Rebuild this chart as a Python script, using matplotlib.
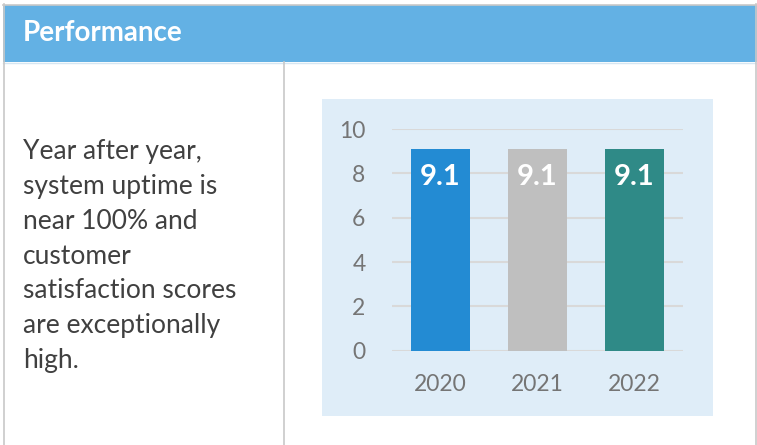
import matplotlib
matplotlib.use("Agg")
import matplotlib.pyplot as plt
from matplotlib.patches import Rectangle
from matplotlib.lines import Line2D

# Data
years = ["2020", "2021", "2022"]
scores = [9.1, 9.1, 9.1]
bar_colors = ["#238BD3", "#BFBFBF", "#2F8A87"]
y_ticks = [0, 2, 4, 6, 8, 10]
title = "Performance"
blurb_lines = ["Year after year,", "system uptime is", "near 100% and",
               "customer", "satisfaction scores", "are exceptionally", "high."]

W, H = 757, 445
plt.rcParams['font.family'] = ['Lato', 'DejaVu Sans']

fig = plt.figure(figsize=(W / 100, H / 100), dpi=100)
fig.patch.set_facecolor("white")


def px_rect(x0, y0, x1, y1, **kw):
    # rectangle in pixel coords (origin top-left)
    return Rectangle((x0 / W, 1 - y1 / H), (x1 - x0) / W, (y1 - y0) / H,
                     transform=fig.transFigure, **kw)


def px_line(xs, ys, **kw):
    return Line2D([x / W for x in xs], [1 - y / H for y in ys],
                  transform=fig.transFigure, **kw)


# card frame + header
fig.add_artist(px_rect(3, 5, 757, 62, facecolor="#63B1E4", edgecolor="none"))
border = dict(color="#C8C8C8", lw=1.2)
fig.add_artist(px_line([3, 757], [4.5, 4.5], **border))
fig.add_artist(px_line([3, 757], [62.5, 62.5], color="#D6E6F2", lw=1))
fig.add_artist(px_line([3.5, 3.5], [4, 445], **border))
fig.add_artist(px_line([283.5, 283.5], [62, 445], **border))
fig.add_artist(px_line([755.5, 755.5], [4, 445], **border))

fig.text(23 / W, 1 - 33 / H, title, color="white", fontsize=20,
         fontweight="bold", va="center", ha="left")

# left-hand description, one line at a time
line_y0, line_step = 152, 34.7
for i, line in enumerate(blurb_lines):
    fig.text(23 / W, 1 - (line_y0 + i * line_step) / H, line,
             color="#404040", fontsize=19, va="center", ha="left")

# chart panel background
fig.add_artist(px_rect(322, 99, 713, 416, facecolor="#DFEDF8",
                       edgecolor="none", zorder=0))

ax_l, ax_r, ax_t, ax_b = 392, 683, 129, 350.7
ax = fig.add_axes([ax_l / W, 1 - ax_b / H, (ax_r - ax_l) / W, (ax_b - ax_t) / H])
ax.set_facecolor("none")

x = range(len(years))
bars = ax.bar(x, scores, width=0.6, color=bar_colors, zorder=3)
for b, v in zip(bars, scores):
    ax.text(b.get_x() + b.get_width() / 2, v - 1.27, f"{v:.1f}",
            ha="center", va="center", color="white", fontsize=21,
            fontweight="bold", zorder=4)

ax.set_xlim(-0.5, len(years) - 0.5)
ax.set_ylim(0, 10)
ax.set_yticks(y_ticks)
ax.set_xticks(list(x))
ax.set_xticklabels(years)
ax.yaxis.grid(True, color="#D9D9D9", lw=1.5, zorder=1)
ax.set_axisbelow(True)
for s in ax.spines.values():
    s.set_visible(False)
ax.tick_params(axis="y", length=0, pad=19, labelsize=16.5, labelcolor="#757575")
ax.tick_params(axis="x", length=0, pad=17, labelsize=16.5, labelcolor="#757575")

fig.savefig("out.png", dpi=100)
